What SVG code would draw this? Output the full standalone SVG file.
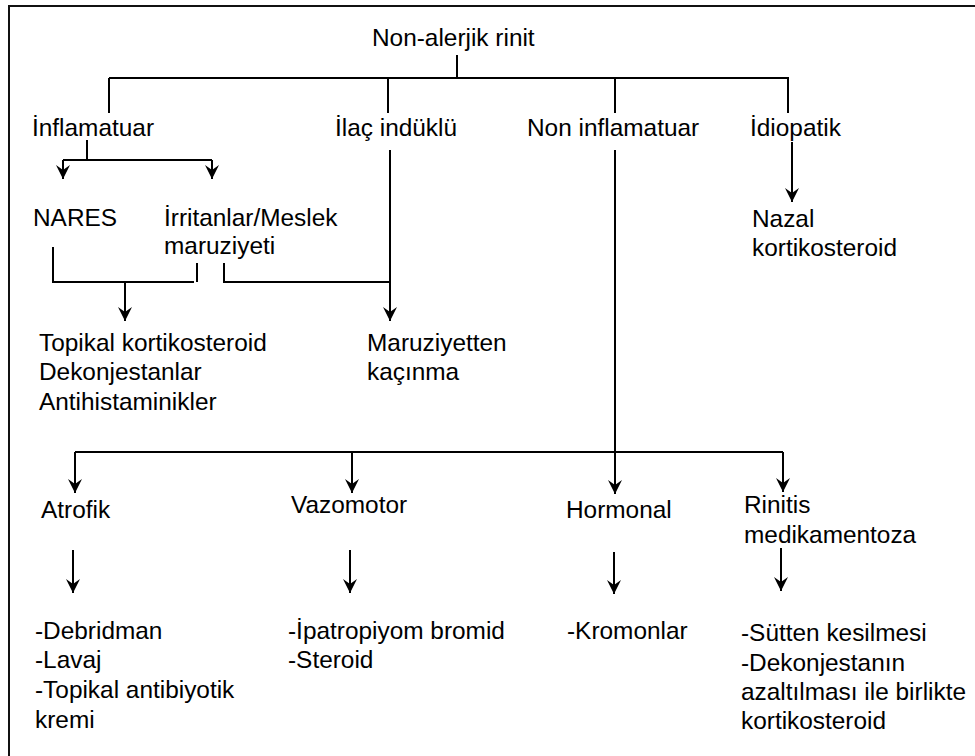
<svg xmlns="http://www.w3.org/2000/svg" width="975" height="756" viewBox="0 0 975 756">
<defs>
<style>
text{font-family:"Liberation Sans",Arial,sans-serif;font-size:24.4px;fill:#000}
.ln{fill:none;stroke:#000;stroke-width:2}
.ar{fill:none;stroke:#000;stroke-width:2;marker-end:url(#ah)}
</style>
<marker id="ah" viewBox="-15 -8 16 16" refX="0" refY="0" markerWidth="16" markerHeight="16" orient="auto" markerUnits="userSpaceOnUse">
<path d="M0,0 L-14,-7 L-9,0 L-14,7 Z" fill="#000"/>
</marker>
</defs>
<rect x="9" y="6" width="990" height="780" fill="#fff" stroke="#111" stroke-width="2"/>
<g id="connectors">
<path class="ln" d="M457,55 V78 M109,78 H789 M109,78 V113 M388,78 V113 M615,78 V113 M788,78 V113"/>
<path class="ln" d="M87,140 V160 M63,160 H212"/>
<path class="ar" d="M63,160 V179"/>
<path class="ar" d="M212,160 V179"/>
<path class="ln" d="M53,247 V282 H194 M197,263 V282 M224,263 V282 H390"/>
<path class="ar" d="M125,282 V321"/>
<path class="ar" d="M390,150 V321"/>
<path class="ar" d="M792,142 V202"/>
<path class="ln" d="M615,150 V452 M75,452 H783"/>
<path class="ar" d="M75,452 V493"/>
<path class="ar" d="M352,452 V493"/>
<path class="ar" d="M615,452 V494"/>
<path class="ar" d="M783,452 V492"/>
<path class="ar" d="M73,550 V593"/>
<path class="ar" d="M350,550 V593"/>
<path class="ar" d="M614,552 V594"/>
<path class="ar" d="M781,548 V591"/>
</g>
<g id="root"><text x="372" y="46">Non-alerjik rinit</text></g>
<g id="inflamatuar"><text x="32" y="136">İnflamatuar</text></g>
<g id="ilac"><text x="335" y="136">İlaç indüklü</text></g>
<g id="noninflamatuar"><text x="527" y="136">Non inflamatuar</text></g>
<g id="idiopatik"><text x="750" y="136">İdiopatik</text></g>
<g id="nares"><text x="33" y="226">NARES</text></g>
<g id="irritanlar"><text x="164" y="226">İrritanlar/Meslek</text><text x="164" y="254">maruziyeti</text></g>
<g id="nazal"><text x="752" y="227">Nazal</text><text x="752" y="256">kortikosteroid</text></g>
<g id="topikal"><text x="39" y="351">Topikal kortikosteroid</text><text x="39" y="380">Dekonjestanlar</text><text x="39" y="410">Antihistaminikler</text></g>
<g id="maruziyetten"><text x="367" y="351">Maruziyetten</text><text x="367" y="380">kaçınma</text></g>
<g id="atrofik"><text x="41" y="518">Atrofik</text></g>
<g id="vazomotor"><text x="291" y="513">Vazomotor</text></g>
<g id="hormonal"><text x="566" y="518">Hormonal</text></g>
<g id="rinitis"><text x="744" y="513">Rinitis</text><text x="744" y="543">medikamentoza</text></g>
<g id="atrofik-tx"><text x="35" y="639">-Debridman</text><text x="35" y="668">-Lavaj</text><text x="35" y="698">-Topikal antibiyotik</text><text x="35" y="728">kremi</text></g>
<g id="vazomotor-tx"><text x="288" y="639">-İpatropiyom bromid</text><text x="288" y="668">-Steroid</text></g>
<g id="hormonal-tx"><text x="567" y="639">-Kromonlar</text></g>
<g id="rinitis-tx"><text x="741" y="641">-Sütten kesilmesi</text><text x="741" y="671">-Dekonjestanın</text><text x="741" y="700">azaltılması ile birlikte</text><text x="741" y="729">kortikosteroid</text></g>
</svg>
